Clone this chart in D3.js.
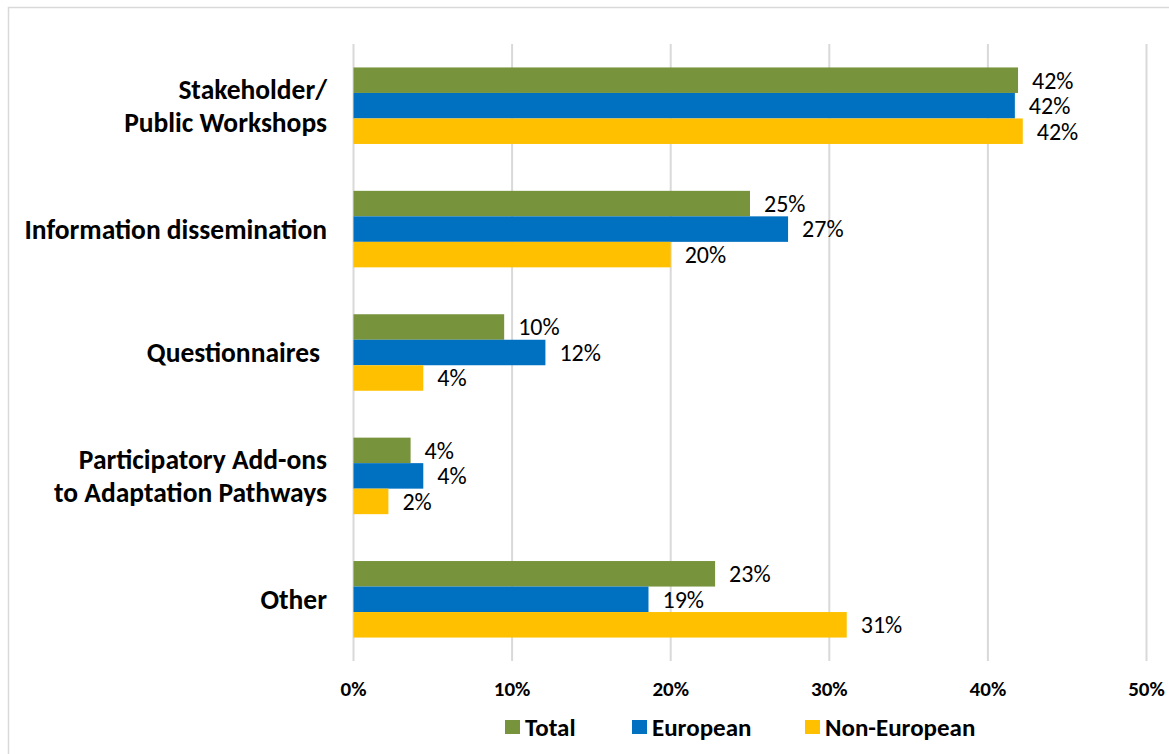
<html>
  <head>
    <meta charset="utf-8">
    <title>Participation methods</title>
    <style>
      body { margin: 0; background: #fff; }
      svg { display: block; }
      text { font-family: Carlito, Calibri, Lato, "Noto Sans", sans-serif; fill: #000; }
    </style>
  </head>
  <body>
    <script src="https://cdn.jsdelivr.net/npm/d3@7/dist/d3.min.js"></script>
    <script>
    var widthCanvas = 1169;
    var heightCanvas = 754;

    // data
    var categories = ["Stakeholder/\nPublic Workshops", "Information dissemination", "Questionnaires",
                      "Participatory Add-ons\nto Adaptation Pathways", "Other"];
    var series = ["Total", "European", "Non-European"];
    var colours = ["#77933C", "#0070C0", "#FFC000"];
    var totalValues = [41.9, 25.0, 9.5, 3.6, 22.8];
    var europeanValues = [41.7, 27.4, 12.1, 4.4, 18.6];
    var nonEuropeanValues = [42.2, 20.0, 4.4, 2.2, 31.1];
    var xTicks = [0, 10, 20, 30, 40, 50];

    var valueSets = [totalValues, europeanValues, nonEuropeanValues];

    var svg = d3.select("body").append("svg")
                .attr("width", widthCanvas)
                .attr("height", heightCanvas);

    // chart border
    svg.append("rect")
        .attr("x", 8.5).attr("y", 7.5)
        .attr("width", 1170).attr("height", 760)
        .attr("fill", "none")
        .attr("stroke", "#D9D9D9")
        .attr("stroke-width", 1.5);

    var x = d3.scaleLinear().domain([0, 50]).range([353.5, 1146.5]);
    var y = d3.scaleBand().domain(d3.range(categories.length))
              .range([44, 661]).paddingInner(0.38).paddingOuter(0.19);
    var ySub = d3.scaleBand().domain(d3.range(series.length)).range([0, y.bandwidth()]);

    // gridlines
    svg.append("g").selectAll("line")
        .data(xTicks)
        .enter().append("line")
        .attr("x1", function(d){ return x(d); })
        .attr("x2", function(d){ return x(d); })
        .attr("y1", 44).attr("y2", 661)
        .attr("stroke", "#D9D9D9")
        .attr("stroke-width", 2);

    // tick labels
    svg.append("g").selectAll("text")
        .data(xTicks)
        .enter().append("text")
        .attr("x", function(d){ return x(d); })
        .attr("y", 689)
        .attr("dy", "0.35em")
        .attr("text-anchor", "middle")
        .style("font-weight", "bold")
        .style("font-size", "21px")
        .text(function(d){ return d + "%"; });

    // bars + value labels
    var groups = svg.append("g").selectAll("g")
        .data(categories)
        .enter().append("g")
        .attr("transform", function(d, i){ return "translate(0," + y(i) + ")"; });

    groups.each(function(c, i){
        var g = d3.select(this);
        var rows = series.map(function(s, j){ return {s: j, v: valueSets[j][i]}; });
        g.selectAll("rect")
            .data(rows)
            .enter().append("rect")
            .attr("x", x(0))
            .attr("y", function(d){ return ySub(d.s); })
            .attr("width", function(d){ return x(d.v) - x(0); })
            .attr("height", ySub.bandwidth())
            .attr("fill", function(d){ return colours[d.s]; });
        g.selectAll("text")
            .data(rows)
            .enter().append("text")
            .attr("x", function(d){ return x(d.v) + 14; })
            .attr("y", function(d){ return ySub(d.s) + ySub.bandwidth() / 2; })
            .attr("dy", "0.35em")
            .style("font-size", "24px")
            .text(function(d){ return Math.round(d.v) + "%"; });
    });

    // category labels
    svg.append("g").selectAll("text")
        .data(categories)
        .enter().append("text")
        .attr("text-anchor", "end")
        .style("font-weight", "bold")
        .style("font-size", "27.5px")
        .each(function(d, i){
            var lines = d.split("\n");
            var t = d3.select(this);
            var cy = y(i) + y.bandwidth() / 2;
            lines.forEach(function(line, k){
                t.append("tspan")
                    .attr("x", i == 2 ? 320 : 327)
                    .attr("y", cy + (k - (lines.length - 1) / 2) * 33)
                    .attr("dy", "0.35em")
                    .text(line);
            });
        });

    // legend
    var legendX = [505, 632, 805];
    var legend = svg.append("g").selectAll("g")
        .data(series)
        .enter().append("g")
        .attr("transform", function(d, i){ return "translate(" + legendX[i] + ",720)"; });
    legend.append("rect")
        .attr("width", 15).attr("height", 14)
        .attr("fill", function(d, i){ return colours[i]; });
    legend.append("text")
        .attr("x", 20).attr("y", 7)
        .attr("dy", "0.35em")
        .style("font-weight", "bold")
        .style("font-size", "25px")
        .text(function(d){ return d; });
    </script>
  </body>
</html>
